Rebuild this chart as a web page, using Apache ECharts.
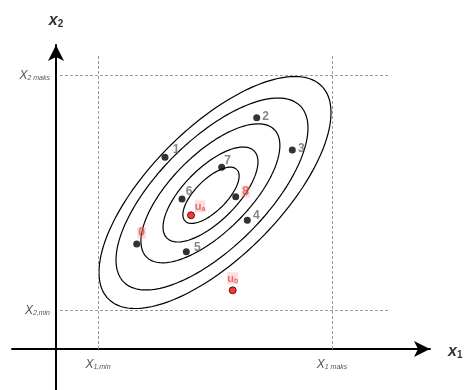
<!DOCTYPE html>
<html>
<head>
<meta charset="utf-8">
<script src="https://cdn.jsdelivr.net/npm/echarts@6/dist/echarts.min.js"></script>
<style>
  html, body { margin: 0; padding: 0; background: #fff; }
  #chart { width: 473px; height: 390px; }
</style>
</head>
<body>
<div id="chart"></div>
<script>
// Sample points (x1, x2)
const pointNames = ['0', '1', '2', '3', '4', '5', '6', '7', '8'];
const pointX = [8.07, 10.9, 20.07, 23.63, 19.13, 13.03, 12.6, 16.57, 17.97];
const pointY = [10.5, 19.17, 23.13, 19.9, 12.87, 9.73, 15.0, 18.17, 15.23];
// Highlighted sample labels (drawn in red)
const redLabels = ['0', '8'];

// Reference vectors
const refNames = ['a', 'b'];
const refX = [13.5, 17.67];
const refY = [13.37, 5.87];

// Density contours: centre, semi-axes, tilt (degrees)
const contourCx = [15.5, 15.45, 15.44, 15.6, 15.9];
const contourCy = [15.37, 15.45, 15.57, 15.5, 15.65];
const contourA = [3.66, 6.17, 9.03, 12.47, 15.07];
const contourB = [1.57, 2.65, 3.88, 5.36, 6.48];
const contourTilt = 45;

// Variable bounds and their tick labels
const x1Bounds = [4.2, 27.6];
const x2Bounds = [3.9, 27.4];
const x1BoundLabels = ['1,min', '1 maks'];
const x2BoundLabels = ['2,min', '2 maks'];

const FONT = '"Liberation Sans", Arial, sans-serif';

// label placement around each marker (text centre relative to the dot)
const labelOffsets = {
  '0': [5, -11], '1': [11, -8], '2': [9, -1], '3': [9, -1], '4': [9, -5],
  '5': [11, -4], '6': [7, -7], '7': [6, -7], '8': [10, -5],
  'a': [9, -9], 'b': [0, -12]
};

function ellipsePoints(i) {
  const th = contourTilt * Math.PI / 180;
  const pts = [];
  const n = 180;
  for (let k = 0; k <= n; k++) {
    const t = 2 * Math.PI * k / n;
    const u = contourA[i] * Math.cos(t);
    const v = contourB[i] * Math.sin(t);
    pts.push([
      contourCx[i] + u * Math.cos(th) - v * Math.sin(th),
      contourCy[i] + u * Math.sin(th) + v * Math.cos(th)
    ]);
  }
  return pts;
}

const contourSeries = contourA.map((_, i) => ({
  type: 'line',
  data: ellipsePoints(i),
  showSymbol: false,
  silent: true,
  z: 2,
  lineStyle: { color: '#000', width: 1.2 }
}));

const tickRich = {
  x: { fontFamily: FONT, fontStyle: 'italic', fontSize: 12, color: '#555', lineHeight: 14, verticalAlign: 'bottom' },
  s: { fontFamily: FONT, fontStyle: 'italic', fontSize: 7, color: '#555', lineHeight: 14, verticalAlign: 'bottom' }
};

const nameRich = {
  x: { fontFamily: FONT, fontStyle: 'italic', fontWeight: 'bold', fontSize: 16, color: '#333', lineHeight: 18, verticalAlign: 'bottom' },
  s: { fontFamily: FONT, fontWeight: 'bold', fontSize: 10, color: '#333', lineHeight: 16, verticalAlign: 'bottom' }
};

const boundLines = [];
x1Bounds.forEach(v => boundLines.push([{ coord: [v, 0] }, { coord: [v, 29.4] }]));
x2Bounds.forEach(v => boundLines.push([{ coord: [0.4, v] }, { coord: [33.2, v] }]));

const sampleData = pointNames.map((n, i) => {
  const red = redLabels.indexOf(n) >= 0;
  return {
    name: n,
    value: [pointX[i], pointY[i]],
    label: {
      offset: labelOffsets[n],
      color: red ? '#ea4c4c' : '#666',
      backgroundColor: red ? 'rgba(240,140,140,0.35)' : 'transparent'
    }
  };
});

const refData = refNames.map((n, i) => ({
  name: n,
  value: [refX[i], refY[i]],
  label: { offset: labelOffsets[n] }
}));

const chart = echarts.init(document.getElementById('chart'), null, { renderer: 'canvas' });
chart.setOption({
  animation: false,
  backgroundColor: '#fff',
  grid: { left: 12, right: 43, top: 45, bottom: 0, containLabel: false, outerBoundsMode: 'none' },
  xAxis: {
    type: 'value', min: -4.4, max: 37.4,
    // axis crosses the x2 axis at x2 = 0 (4.1 units above the grid bottom)
    offset: -41,
    name: '{x|x}{s|1}', nameLocation: 'end', nameGap: 18,
    nameTextStyle: { rich: nameRich, verticalAlign: 'middle', padding: [4, 0, 0, 0] },
    axisLine: { onZero: false, symbol: ['none', 'arrow'], symbolSize: [12, 16], lineStyle: { color: '#000', width: 2 } },
    axisTick: { show: false },
    splitLine: { show: false },
    axisLabel: {
      customValues: x1Bounds, margin: 8,
      formatter: v => '{x|X}{s|' + x1BoundLabels[x1Bounds.indexOf(v)] + '}',
      rich: tickRich
    }
  },
  yAxis: {
    type: 'value', min: -4.1, max: 30.4,
    // axis crosses the x1 axis at x1 = 0
    offset: -44,
    name: '{x|x}{s|2}', nameLocation: 'end', nameGap: 16,
    nameTextStyle: { rich: nameRich, align: 'center' },
    axisLine: { onZero: false, symbol: ['none', 'arrow'], symbolSize: [12, 16], lineStyle: { color: '#000', width: 2 } },
    axisTick: { show: false },
    splitLine: { show: false },
    axisLabel: {
      customValues: x2Bounds, margin: 6,
      formatter: v => '{x|X}{s|' + x2BoundLabels[x2Bounds.indexOf(v)] + '}',
      rich: tickRich
    }
  },
  series: [
    {
      type: 'line', data: [], silent: true,
      markLine: {
        silent: true, symbol: ['none', 'none'],
        label: { show: false },
        lineStyle: { color: '#9a9a9a', type: [3, 2], width: 1 },
        data: boundLines
      }
    },
    ...contourSeries,
    {
      type: 'scatter', data: sampleData, symbolSize: 7, z: 5,
      itemStyle: { color: '#000' },
      label: {
        show: true, position: 'inside', formatter: '{b}',
        fontFamily: FONT, fontSize: 12, fontWeight: 'bold', padding: [0, 1]
      }
    },
    {
      type: 'scatter', data: refData, symbolSize: 7, z: 6,
      itemStyle: { color: '#ff0000', borderColor: '#3a0000', borderWidth: 1 },
      label: {
        show: true, position: 'inside',
        formatter: p => '{u|u}{s|' + p.name + '}',
        backgroundColor: 'rgba(240,140,140,0.35)',
        rich: {
          u: { fontFamily: FONT, fontSize: 11, fontWeight: 'bold', color: '#ea4c4c', verticalAlign: 'bottom', lineHeight: 12 },
          s: { fontFamily: FONT, fontSize: 7, fontWeight: 'bold', color: '#ea4c4c', verticalAlign: 'bottom', lineHeight: 10 }
        }
      }
    }
  ]
});
</script>
</body>
</html>
